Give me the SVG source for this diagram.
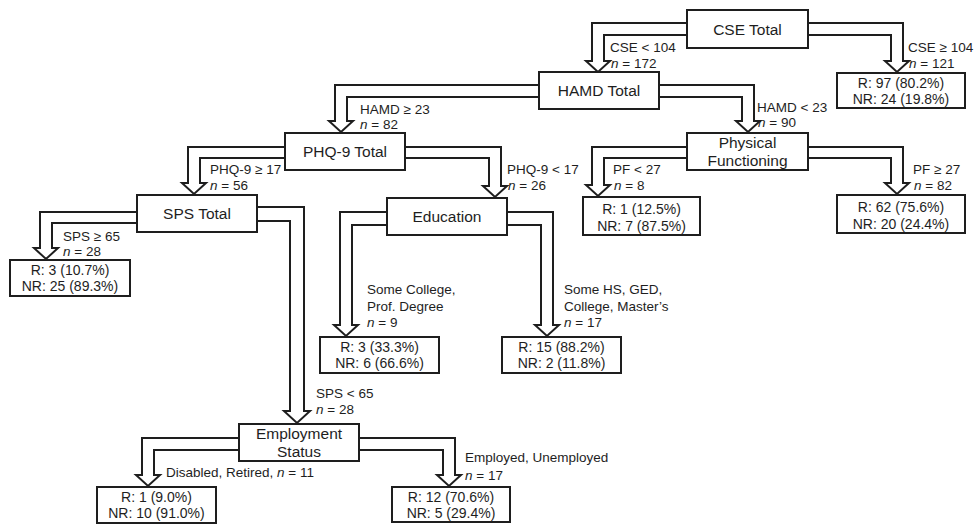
<svg xmlns="http://www.w3.org/2000/svg" width="979" height="525" viewBox="0 0 979 525">
<style>
.box{fill:#fff;stroke:#1e1e1e;stroke-width:2}
.arr{fill:#fff;stroke:#1e1e1e;stroke-width:2;stroke-linejoin:miter}
text{font-family:"Liberation Sans",Arial,sans-serif;fill:#1e1e1e}
.t{font-size:15.5px;text-anchor:middle}
.lf{font-size:14px;text-anchor:middle}
.lb{font-size:13.5px}
.i{font-style:italic}
</style>
<rect width="979" height="525" fill="#fff"/>
<g id="connectors">
<path class="arr" d="M687,23 H592 V61 H586 L598,72 L610,61 H604 V35 H687"/>
<path class="arr" d="M808,23 H903 V61 H909 L897,72 L885,61 H891 V35 H808"/>
<path class="arr" d="M539,85 H335 V121 H329 L341,132 L353,121 H347 V97 H539"/>
<path class="arr" d="M659,85 H754 V121 H760 L748,132 L736,121 H742 V97 H659"/>
<path class="arr" d="M285,147 H188 V183 H182 L194,194 L206,183 H200 V158 H285"/>
<path class="arr" d="M405,147 H501 V186 H507 L495,197 L483,186 H489 V158 H405"/>
<path class="arr" d="M687,147 H592 V185 H586 L598,196 L610,185 H604 V158 H687"/>
<path class="arr" d="M808,147 H903 V183 H909 L897,194 L885,183 H891 V158 H808"/>
<path class="arr" d="M137,212 H40 V248 H34 L46,259 L58,248 H52 V223 H137"/>
<path class="arr" d="M257,207 H304 V411 H310 L297,423 L284,411 H290 V221 H257"/>
<path class="arr" d="M387,212 H340 V325 H334 L346,336 L358,325 H352 V225 H387"/>
<path class="arr" d="M507,212 H553 V325 H559 L547,336 L535,325 H541 V225 H507"/>
<path class="arr" d="M239,438 H142 V475 H136 L148,486 L160,475 H154 V450 H239"/>
<path class="arr" d="M359,438 H455 V475 H461 L449,486 L437,475 H443 V450 H359"/>
</g>
<g id="cse"><rect class="box" x="687" y="10" width="121" height="38"/><text class="t" x="747.5" y="35">CSE Total</text></g>
<g id="hamd"><rect class="box" x="539" y="72" width="120" height="37"/><text class="t" x="599" y="96">HAMD Total</text></g>
<g id="phq"><rect class="box" x="285" y="133" width="120" height="37"/><text class="t" x="345" y="157">PHQ-9 Total</text></g>
<g id="pf"><rect class="box" x="687" y="133" width="121" height="37"/><text class="t" x="747.5" y="148">Physical</text><text class="t" x="747.5" y="166">Functioning</text></g>
<g id="sps"><rect class="box" x="137" y="195" width="120" height="37"/><text class="t" x="197" y="219">SPS Total</text></g>
<g id="edu"><rect class="box" x="387" y="198" width="120" height="37"/><text class="t" x="447" y="222">Education</text></g>
<g id="emp"><rect class="box" x="239" y="424" width="120" height="37"/><text class="t" x="299" y="439">Employment</text><text class="t" x="299" y="457">Status</text></g>
<g id="leaf1"><rect class="box" x="837" y="73" width="128" height="35"/><text class="lf" x="901" y="88">R: 97 (80.2%)</text><text class="lf" x="901" y="104">NR: 24 (19.8%)</text></g>
<g id="leaf2"><rect class="box" x="583" y="197" width="117" height="38"/><text class="lf" x="641.5" y="214">R: 1 (12.5%)</text><text class="lf" x="641.5" y="231">NR: 7 (87.5%)</text></g>
<g id="leaf3"><rect class="box" x="837" y="195" width="128" height="38"/><text class="lf" x="901" y="212">R: 62 (75.6%)</text><text class="lf" x="901" y="229">NR: 20 (24.4%)</text></g>
<g id="leaf4"><rect class="box" x="10" y="260" width="120" height="36"/><text class="lf" x="70" y="275">R: 3 (10.7%)</text><text class="lf" x="70" y="291">NR: 25 (89.3%)</text></g>
<g id="leaf5"><rect class="box" x="320" y="337" width="119" height="36"/><text class="lf" x="379.5" y="352">R: 3 (33.3%)</text><text class="lf" x="379.5" y="368">NR: 6 (66.6%)</text></g>
<g id="leaf6"><rect class="box" x="502" y="337" width="119" height="36"/><text class="lf" x="561.5" y="352">R: 15 (88.2%)</text><text class="lf" x="561.5" y="368">NR: 2 (11.8%)</text></g>
<g id="leaf7"><rect class="box" x="97" y="487" width="119" height="36"/><text class="lf" x="156.5" y="502">R: 1 (9.0%)</text><text class="lf" x="156.5" y="518">NR: 10 (91.0%)</text></g>
<g id="leaf8"><rect class="box" x="392" y="487" width="118" height="35"/><text class="lf" x="451" y="502">R: 12 (70.6%)</text><text class="lf" x="451" y="518">NR: 5 (29.4%)</text></g>
<g id="labels">
<text class="lb" x="610" y="52">CSE &lt; 104</text><text class="lb" x="611" y="68"><tspan class="i">n</tspan> = 172</text>
<text class="lb" x="908" y="52">CSE ≥ 104</text><text class="lb" x="909" y="68"><tspan class="i">n</tspan> = 121</text>
<text class="lb" x="360" y="114">HAMD ≥ 23</text><text class="lb" x="360" y="129"><tspan class="i">n</tspan> = 82</text>
<text class="lb" x="757" y="112">HAMD &lt; 23</text><text class="lb" x="758" y="127"><tspan class="i">n</tspan> = 90</text>
<text class="lb" x="210" y="174">PHQ-9 ≥ 17</text><text class="lb" x="210" y="190"><tspan class="i">n</tspan> = 56</text>
<text class="lb" x="507" y="174">PHQ-9 &lt; 17</text><text class="lb" x="508" y="190"><tspan class="i">n</tspan> = 26</text>
<text class="lb" x="613" y="174">PF &lt; 27</text><text class="lb" x="614" y="190"><tspan class="i">n</tspan> = 8</text>
<text class="lb" x="913" y="174">PF ≥ 27</text><text class="lb" x="914" y="190"><tspan class="i">n</tspan> = 82</text>
<text class="lb" x="63" y="241">SPS ≥ 65</text><text class="lb" x="63" y="256"><tspan class="i">n</tspan> = 28</text>
<text class="lb" x="367" y="294">Some College,</text><text class="lb" x="367" y="311">Prof. Degree</text><text class="lb" x="367" y="327"><tspan class="i">n</tspan> = 9</text>
<text class="lb" x="564" y="294">Some HS, GED,</text><text class="lb" x="564" y="311">College, Master’s</text><text class="lb" x="564" y="327"><tspan class="i">n</tspan> = 17</text>
<text class="lb" x="316" y="398">SPS &lt; 65</text><text class="lb" x="316" y="414"><tspan class="i">n</tspan> = 28</text>
<text class="lb" x="166" y="477">Disabled, Retired, <tspan class="i">n</tspan> = 11</text>
<text class="lb" x="465" y="462">Employed, Unemployed</text><text class="lb" x="465" y="480"><tspan class="i">n</tspan> = 17</text>
</g>
</svg>
